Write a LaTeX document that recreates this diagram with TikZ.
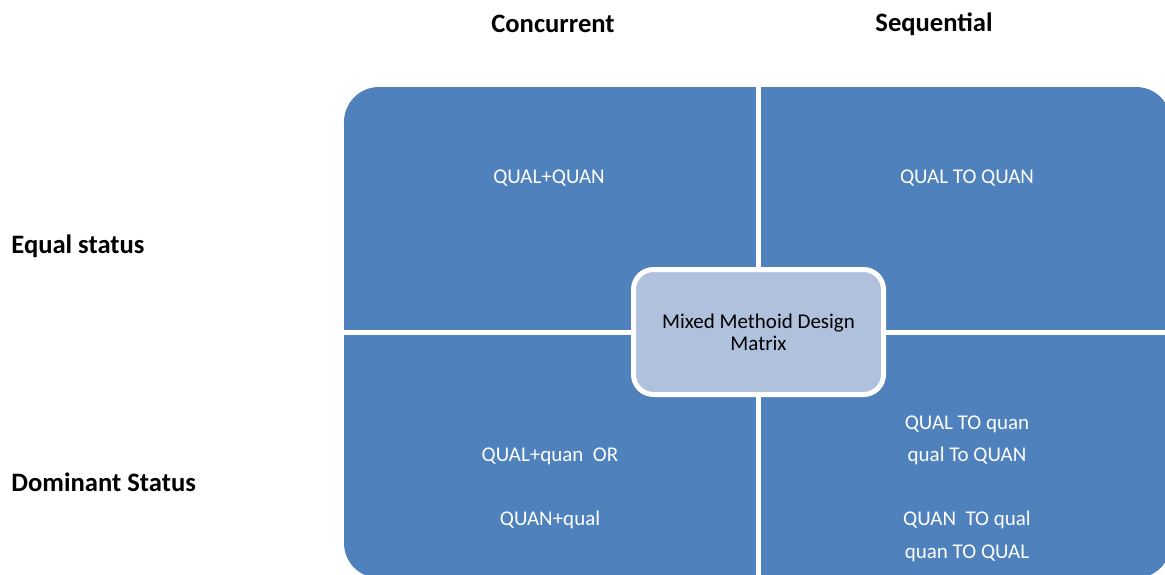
\documentclass[tikz,border=0pt]{standalone}
\usepackage{fontspec}
\setmainfont{Carlito}
\definecolor{quadblue}{RGB}{79,129,189}
\definecolor{hubblue}{RGB}{176,193,221}
\tikzset{
    head/.style={font=\fontsize{13.3}{16}\selectfont\bfseries, inner sep=0pt},
    quadtext/.style={font=\fontsize{10.5}{16.15}\selectfont, text=white, align=center, inner sep=0pt},
    hub/.style={draw=white, line width=2.5pt, fill=hubblue, rounded corners=10pt,
        minimum width=125pt, minimum height=62.5pt, align=center,
        font=\fontsize{10.5}{11}\selectfont, text=black}
}
\begin{document}
\begin{tikzpicture}[x=0.5pt,y=-0.5pt]
        \useasboundingbox (0,0) rectangle (1165,574);

        % quadrants
        \begin{scope}
            \clip[rounded corners=17.5pt] (344,87) rectangle (1171,578);
            \fill[quadblue] (344,87) rectangle (756,330);
            \fill[quadblue] (761,87) rectangle (1171,330);
            \fill[quadblue] (344,335) rectangle (756,578);
            \fill[quadblue] (761,335) rectangle (1171,578);
        \end{scope}

        \node[head] (conc) at (553,24) {Concurrent};
        \node[head] (seq) at (934,24) {Sequential};
        \node[head, anchor=west] (equal) at (11,246) {Equal status};
        \node[head, anchor=west] (dom) at (11,482) {Dominant Status};

        \node[quadtext] (qq) at (549,178) {QUAL+QUAN};
        \node[quadtext] (qtq) at (967,178) {QUAL TO QUAN};
        \node[quadtext] (qdom) at (550,488.5) {QUAL+quan\ \ OR\\ \\QUAN+qual};
        \node[quadtext] (qseq) at (967,488.5) {QUAL TO quan\\qual To QUAN\\ \\QUAN\ \ TO qual\\quan TO QUAL};

        \node[hub] (matrix) at (758.5,332) {Mixed Methoid Design\\Matrix};
    \end{tikzpicture}
\end{document}
